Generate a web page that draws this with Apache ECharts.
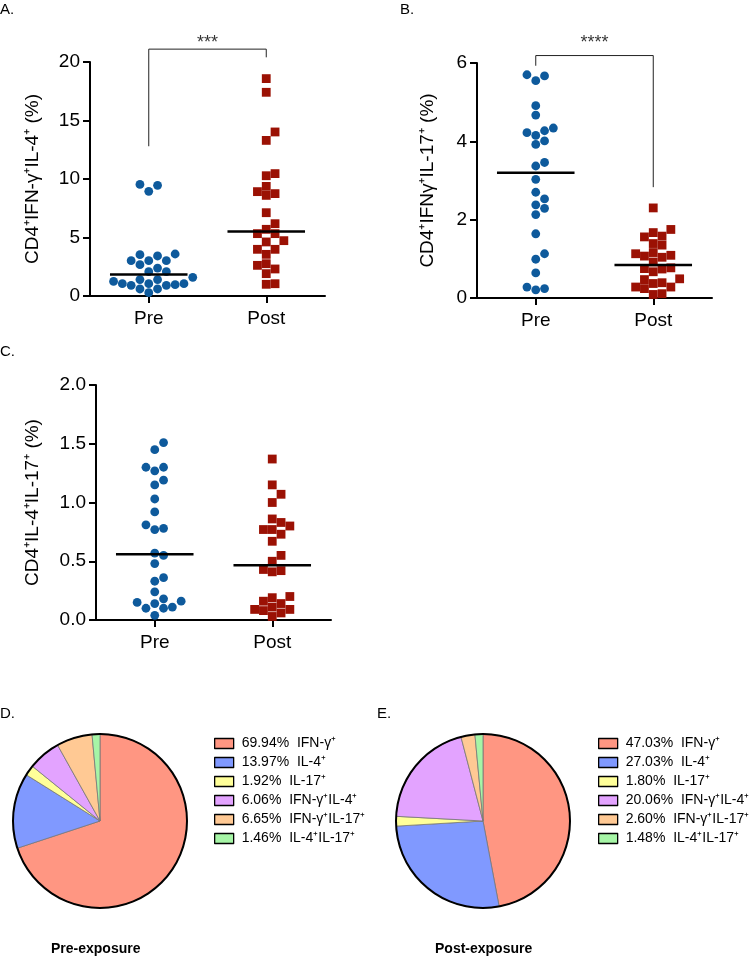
<!DOCTYPE html>
<html>
<head>
<meta charset="utf-8">
<script src="https://cdn.jsdelivr.net/npm/echarts@6/dist/echarts.min.js"></script>
<style>
html,body{margin:0;padding:0;background:#fff}
#main{width:750px;height:956px}
</style>
</head>
<body>
<div id="main"></div>
<script>
// groups on every dot plot
var groups = ['Pre', 'Post'];

// A. CD4+IFN-γ+IL-4+ (%)
var ifnIl4Pre = [9.46, 9.54, 8.95, 3.53, 3.42, 3.59, 3.02, 3.02, 3.02, 2.68, 2.39, 2.08, 2.08,
    1.25, 1.60, 0.91, 1.05, 1.05, 1.40, 1.05, 1.40, 0.91, 0.97, 0.60, 0.60, 0.28];
var ifnIl4Post = [18.58, 17.41, 14.02, 13.30, 10.28, 10.46, 9.37, 8.92, 8.60, 8.75, 7.12, 6.18, 5.70,
    5.33, 5.33, 4.62, 4.73, 3.99, 3.99, 3.56, 2.62, 2.76, 1.91, 2.31, 1.00, 1.05];

// B. CD4+IFNγ+IL-17+ (%)
var ifnIl17Pre = [5.70, 5.67, 5.55, 4.91, 4.67, 4.34, 4.22, 4.27, 4.15, 3.92, 4.01, 3.37, 3.46,
    3.03, 2.70, 2.53, 2.29, 2.38, 2.13, 1.64, 1.13, 0.99, 0.64, 0.21, 0.28, 0.24];
var ifnIl17Post = [2.30, 1.75, 1.67, 1.58, 1.56, 1.39, 1.35, 1.16, 1.13, 1.09, 1.07, 1.04, 0.92,
    0.77, 0.75, 0.74, 0.67, 0.49, 0.47, 0.39, 0.37, 0.28, 0.28, 0.24, 0.11, 0.09];

// C. CD4+IL-4+IL-17+ (%)
var il4Il17Pre = [1.51, 1.45, 1.30, 1.27, 1.30, 1.15, 1.19, 1.03, 0.92, 0.78, 0.77, 0.81, 0.55,
    0.57, 0.48, 0.33, 0.36, 0.24, 0.14, 0.16, 0.11, 0.18, 0.10, 0.10, 0.15, 0.04];
var il4Il17Post = [1.37, 1.15, 1.07, 1.00, 0.86, 0.77, 0.77, 0.83, 0.80, 0.73, 0.67, 0.50, 0.55,
    0.43, 0.41, 0.42, 0.14, 0.06, 0.19, 0.16, 0.20, 0.09, 0.08, 0.09, 0.11, 0.03];

// significance brackets (left leg end, top, right leg end, stars level)
var bracketA = [12.8, 21.1, 20.4, 21.6];
var bracketB = [5.93, 6.19, 2.83, 6.52];

// D/E pies
var subsets = ['IFN-γ⁺', 'IL-4⁺', 'IL-17⁺', 'IFN-γ⁺IL-4⁺', 'IFN-γ⁺IL-17⁺', 'IL-4⁺IL-17⁺'];
var piePre = [69.94, 13.97, 1.92, 6.06, 6.65, 1.46];
var piePost = [47.03, 27.03, 1.80, 20.06, 2.60, 1.48];
var pieColors = ['#FF9682', '#8099FF', '#FFFF99', '#E3A3FF', '#FFC994', '#A6F5A6'];

var FONT = 'Liberation Sans, Arial, sans-serif';
var BLUE = '#0E5A9C';
var RED = '#9B1104';
var DOT = 8.8;           // marker size in px
var PX_X = 235 / 2;      // px per x unit (value axis 0.5..2.5 over 235px)

var myChart = echarts.init(document.getElementById('main'));

// simple column beeswarm: each point goes to the closest free column
function swarm(values, center, pxPerY) {
    var order = values.map(function (v, i) { return i; })
        .sort(function (a, b) { return values[a] - values[b]; });
    var cols = {};
    var out = [];
    order.forEach(function (i) {
        var y = values[i] * pxPerY;
        for (var k = 0; k < 40; k++) {
            var c = k === 0 ? 0 : (k % 2 ? (k + 1) / 2 : -k / 2);
            var list = cols[c] || (cols[c] = []);
            var free = list.every(function (yy) { return Math.abs(yy - y) >= DOT; });
            if (free) {
                list.push(y);
                out.push([center + c * DOT / PX_X, values[i]]);
                break;
            }
        }
    });
    return out;
}

function median(a) {
    var s = a.slice().sort(function (x, y) { return x - y; });
    var m = Math.floor(s.length / 2);
    return s.length % 2 ? s[m] : (s[m - 1] + s[m]) / 2;
}

var grids = [
    {left: 90, top: 62, width: 235, height: 234},
    {left: 477, top: 63, width: 235, height: 235},
    {left: 96, top: 385, width: 235, height: 235}
];
var yCfg = [
    {max: 20, interval: 5, name: 'CD4⁺IFN-γ⁺IL-4⁺ (%)', dec: 0, gap: 48},
    {max: 6, interval: 2, name: 'CD4⁺IFNγ⁺IL-17⁺ (%)', dec: 0, gap: 40},
    {max: 2, interval: 0.5, name: 'CD4⁺IL-4⁺IL-17⁺ (%)', dec: 1, gap: 54}
];
var panels = [
    [ifnIl4Pre, ifnIl4Post, bracketA, '***'],
    [ifnIl17Pre, ifnIl17Post, bracketB, '****'],
    [il4Il17Pre, il4Il17Post, null, null]
];

var xAxes = [], yAxes = [], series = [];
var axisLine = {show: true, lineStyle: {color: '#000', width: 2}};
var axisTick = {show: true, length: 7, lineStyle: {color: '#000', width: 2}};

panels.forEach(function (p, g) {
    xAxes.push({
        type: 'category', gridIndex: g, data: groups, boundaryGap: true,
        axisLine: axisLine, axisTick: {show: true, alignWithLabel: true, length: 7, lineStyle: {color: '#000', width: 2}},
        axisLabel: {color: '#000', fontSize: 19, fontFamily: FONT, margin: 13}
    });
    xAxes.push({type: 'value', gridIndex: g, min: 0.5, max: 2.5, show: false});
    yAxes.push({
        type: 'value', gridIndex: g, min: 0, max: yCfg[g].max, interval: yCfg[g].interval,
        axisLine: axisLine, axisTick: axisTick, splitLine: {show: false},
        axisLabel: {color: '#000', fontSize: 19, fontFamily: FONT, margin: 10,
            formatter: (function (d) { return function (v) { return v.toFixed(d); }; })(yCfg[g].dec)},
        name: yCfg[g].name, nameLocation: 'middle', nameGap: yCfg[g].gap,
        nameTextStyle: {color: '#000', fontSize: 19, fontFamily: FONT}
    });
    var pxPerY = grids[g].height / yCfg[g].max;
    var xi = g * 2 + 1;
    series.push({
        type: 'scatter', xAxisIndex: xi, yAxisIndex: g, symbol: 'circle', symbolSize: DOT,
        itemStyle: {color: BLUE, opacity: 1}, data: swarm(p[0], 1, pxPerY), silent: true
    });
    series.push({
        type: 'scatter', xAxisIndex: xi, yAxisIndex: g, symbol: 'rect', symbolSize: DOT,
        itemStyle: {color: RED, opacity: 1}, data: swarm(p[1], 2, pxPerY), silent: true
    });
    [p[0], p[1]].forEach(function (vals, j) {
        var m = median(vals);
        series.push({
            type: 'line', xAxisIndex: xi, yAxisIndex: g, symbol: 'none', z: 5, silent: true,
            lineStyle: {color: '#000', width: 2.5},
            data: [[j + 1 - 0.33, m], [j + 1 + 0.33, m]]
        });
    });
    if (p[2]) {
        series.push({
            type: 'line', xAxisIndex: xi, yAxisIndex: g, symbol: 'none', clip: false, silent: true,
            lineStyle: {color: '#222', width: 1},
            data: [[1, p[2][0]], [1, p[2][1]], [2, p[2][1]], [2, p[2][2]]]
        });
        series.push({
            type: 'scatter', xAxisIndex: xi, yAxisIndex: g, symbolSize: 1, clip: false, silent: true,
            itemStyle: {color: 'rgba(0,0,0,0)'},
            label: {show: true, position: 'inside', formatter: p[3],
                color: '#000', fontSize: 18, fontFamily: FONT},
            data: [[1.5, p[2][3]]]
        });
    }
});

function pieSeries(vals, cx) {
    return {
        type: 'pie', center: [cx, 821], radius: 87, startAngle: 90, clockwise: true,
        silent: true, label: {show: false}, labelLine: {show: false},
        itemStyle: {borderColor: '#777', borderWidth: 0.8},
        data: vals.map(function (v, i) {
            return {name: v.toFixed(2) + '%  ' + subsets[i], value: v, itemStyle: {color: pieColors[i]}};
        })
    };
}
function ringSeries(cx) {
    return {
        type: 'pie', center: [cx, 821], radius: [86, 88], silent: true,
        label: {show: false}, labelLine: {show: false},
        itemStyle: {color: '#000'}, data: [{name: 'ring', value: 1}], z: 3
    };
}
series.push(pieSeries(piePre, 100), ringSeries(100));
series.push(pieSeries(piePost, 483), ringSeries(483));

function pieLegend(vals, left) {
    return {
        orient: 'vertical', left: left, top: 730, itemWidth: 19, itemHeight: 10, itemGap: 2,
        icon: 'rect', selectedMode: false,
        itemStyle: {borderColor: '#000', borderWidth: 1.3},
        textStyle: {color: '#000', fontSize: 14, fontFamily: FONT, lineHeight: 17, padding: [0, 0, 0, 3]},
        data: vals.map(function (v, i) { return v.toFixed(2) + '%  ' + subsets[i]; })
    };
}

function label(text, x, y, size, weight, align) {
    return {type: 'text', left: x, top: y, style: {text: text, fill: '#000',
        font: (weight || 'normal') + ' ' + size + 'px ' + FONT, textAlign: align || 'left'}};
}

option = {
    backgroundColor: '#fff',
    animation: false,
    grid: grids,
    xAxis: xAxes,
    yAxis: yAxes,
    legend: [pieLegend(piePre, 209), pieLegend(piePost, 593)],
    series: series,
    graphic: [
        label('A.', 0, 2, 15),
        label('B.', 400, 2, 15),
        label('C.', 0, 344, 15),
        label('D.', 0, 706, 15),
        label('E.', 377, 706, 15),
        label('Pre-exposure', 51, 942, 14, 'bold'),
        label('Post-exposure', 435, 942, 14, 'bold')
    ]
};

myChart.setOption(option);
</script>
</body>
</html>
